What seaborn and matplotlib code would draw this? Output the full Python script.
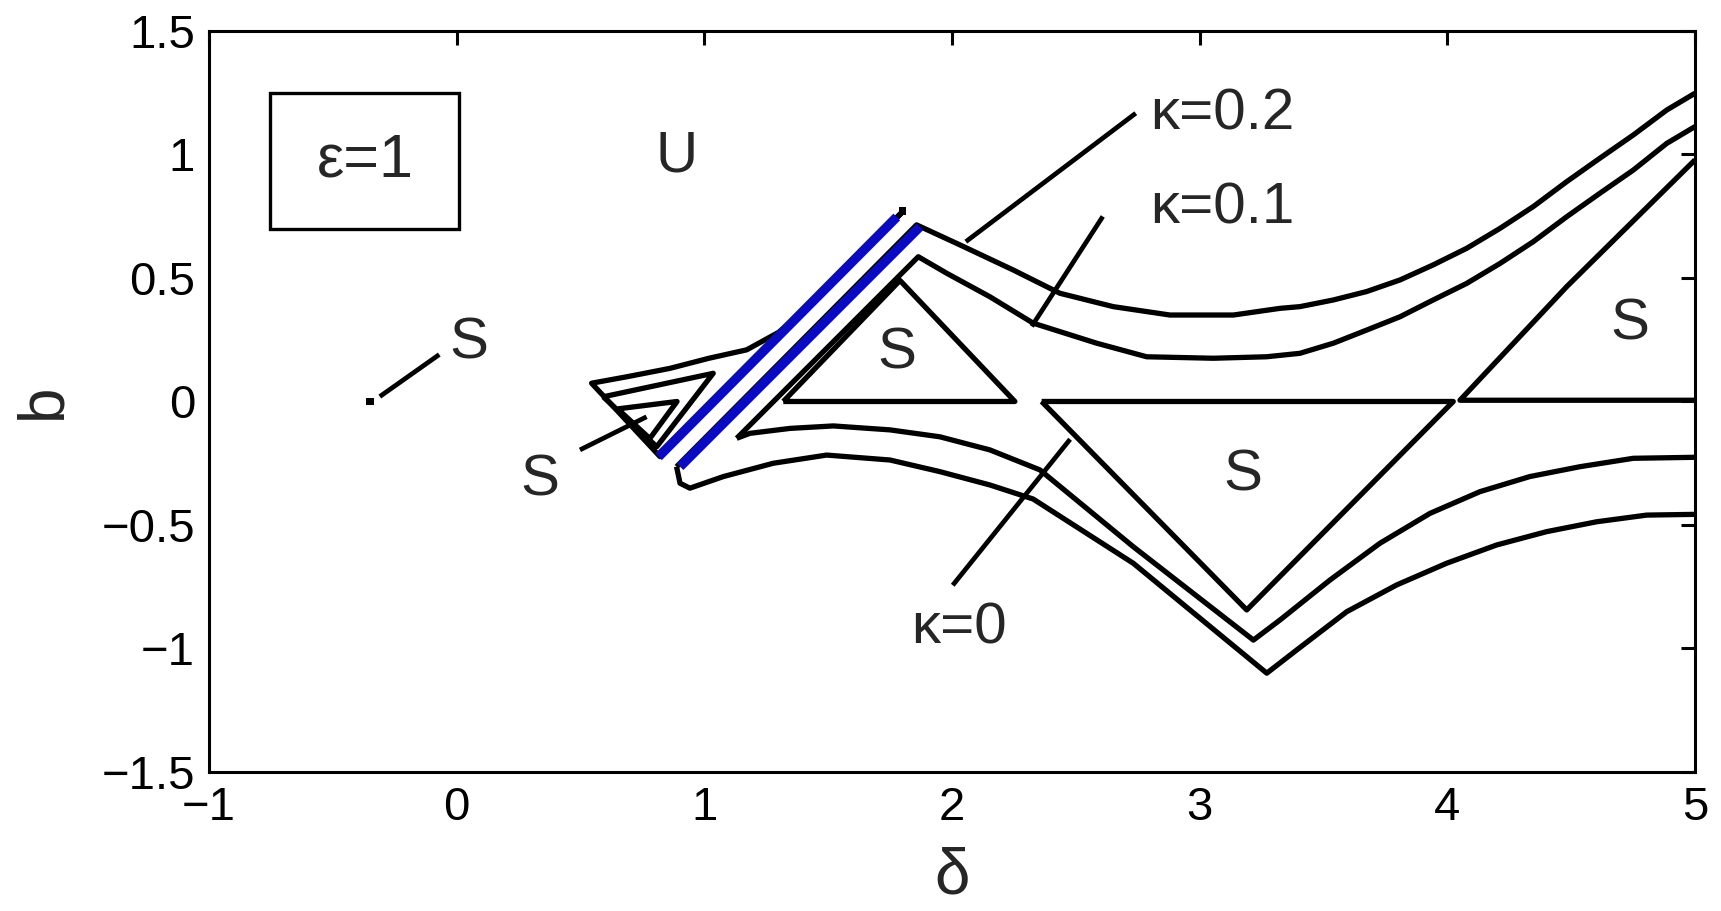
import numpy as np
import pandas as pd
import matplotlib
matplotlib.use("Agg")
import matplotlib.pyplot as plt
from matplotlib.patches import Rectangle
import seaborn as sns

# ---------------- data ----------------
# kappa = 0.2, upper branch (right end -> minimum -> cusp -> straight line down-left)
k02_up_x = [5.0, 4.886, 4.751, 4.616, 4.482, 4.347, 4.213, 4.078, 3.943, 3.809, 3.674, 3.540,
            3.405, 3.324, 3.136, 2.880, 2.651, 2.436, 2.248, 2.032, 1.857, 0.888]
k02_up_y = [1.248, 1.180, 1.079, 0.985, 0.890, 0.789, 0.701, 0.620, 0.553, 0.492, 0.445, 0.411,
            0.384, 0.377, 0.350, 0.350, 0.384, 0.438, 0.532, 0.634, 0.715, -0.264]
# kappa = 0.2, lower branch (cusp hook -> V -> right end)
k02_lo_x = [0.888, 0.902, 0.942, 1.077, 1.279, 1.494, 1.750, 1.951, 2.153, 2.328, 2.732, 3.271,
            3.392, 3.594, 3.795, 3.997, 4.199, 4.401, 4.603, 4.805, 5.0]
k02_lo_y = [-0.264, -0.331, -0.351, -0.304, -0.250, -0.217, -0.237, -0.284, -0.338, -0.395, -0.655, -1.100,
            -1.006, -0.851, -0.743, -0.655, -0.581, -0.527, -0.487, -0.460, -0.457]
# kappa = 0.2, left wedge
k02_wedge_x = [1.80, 0.821, 0.545, 0.687, 0.861, 1.019, 1.171, 1.30, 1.43, 1.80]
k02_wedge_y = [0.768, -0.223, 0.074, 0.100, 0.134, 0.175, 0.209, 0.280, 0.390, 0.768]

# kappa = 0.1, upper branch
k01_up_x = [5.0, 4.886, 4.751, 4.616, 4.482, 4.347, 4.213, 4.078, 3.943, 3.809, 3.674, 3.540,
            3.405, 3.270, 3.055, 2.786, 2.584, 2.328, 2.153, 1.979, 1.864, 1.131]
k01_up_y = [1.113, 1.045, 0.937, 0.843, 0.748, 0.647, 0.559, 0.478, 0.411, 0.343, 0.289, 0.236,
            0.195, 0.181, 0.175, 0.181, 0.236, 0.317, 0.424, 0.519, 0.586, -0.149]
# kappa = 0.1, lower branch
k01_lo_x = [1.131, 1.184, 1.346, 1.521, 1.750, 1.951, 2.153, 2.355, 2.732, 3.217, 3.324, 3.526,
            3.728, 3.930, 4.132, 4.333, 4.536, 4.751, 5.0]
k01_lo_y = [-0.149, -0.129, -0.109, -0.099, -0.115, -0.143, -0.196, -0.277, -0.588, -0.966, -0.885, -0.723,
            -0.574, -0.453, -0.365, -0.304, -0.264, -0.230, -0.226]
# kappa = 0.1, left wedge
k01_wedge_x = [0.592, 1.036, 0.808, 0.592]
k01_wedge_y = [0.019, 0.114, -0.183, 0.019]

# kappa = 0, regions
k0_tri1_x = [1.319, 1.790, 2.254, 1.319]
k0_tri1_y = [0.0, 0.490, 0.0, 0.0]
k0_tri2_x = [2.362, 3.190, 4.024, 2.362]
k0_tri2_y = [0.0, -0.844, 0.0, 0.0]
k0_right_x = [5.0, 4.482, 4.051, 5.0]
k0_right_y = [0.978, 0.465, 0.005, 0.005]
k0_small_x = [0.65, 0.89, 0.78, 0.65]
k0_small_y = [-0.03, 0.0, -0.15, -0.03]

# highlighted straight lines (blue)
blue1_x = [0.815, 1.777]
blue1_y = [-0.224, 0.747]
blue2_x = [0.902, 1.870]
blue2_y = [-0.264, 0.707]

# isolated stable point and end dot
pt_x = [-0.35, 1.80]
pt_y = [0.0, 0.77]

# pointer lines for labels
ptr_k02 = ([2.742, 2.056], [1.167, 0.647])
ptr_k01 = ([2.609, 2.322], [0.749, 0.304])
ptr_k0 = ([2.003, 2.477], [-0.744, -0.153])
ptr_s1 = ([-0.31, -0.07], [0.02, 0.19])
ptr_s2 = ([0.498, 0.767], [-0.196, -0.062])

x_ticks = [-1, 0, 1, 2, 3, 4, 5]
y_ticks = [-1.5, -1, -0.5, 0, 0.5, 1, 1.5]
x_ticklabels = ["\u22121", "0", "1", "2", "3", "4", "5"]
y_ticklabels = ["\u22121.5", "\u22121", "\u22120.5", "0", "0.5", "1", "1.5"]

# ---------------- plotting ----------------
sns.set_theme(style="white")
plt.rcParams["font.family"] = ["Liberation Sans", "DejaVu Sans"]

fig = plt.figure(figsize=(17.21, 9.11), dpi=100)
ax = fig.add_axes([0.1214, 0.1526, 0.8635, 0.8134])

BLACK_LW = 3.8

def curve(xs, ys, color="black", lw=BLACK_LW):
    df = pd.DataFrame({"x": xs, "y": ys})
    sns.lineplot(data=df, x="x", y="y", sort=False, estimator=None,
                 color=color, linewidth=lw, ax=ax, legend=False,
                 solid_joinstyle="round", solid_capstyle="butt")

for xs, ys in [(k02_up_x, k02_up_y), (k02_lo_x, k02_lo_y), (k02_wedge_x, k02_wedge_y),
               (k01_up_x, k01_up_y), (k01_lo_x, k01_lo_y), (k01_wedge_x, k01_wedge_y),
               (k0_tri1_x, k0_tri1_y), (k0_tri2_x, k0_tri2_y), (k0_right_x, k0_right_y),
               (k0_small_x, k0_small_y)]:
    curve(xs, ys)

for p in [ptr_k02, ptr_k01, ptr_k0, ptr_s1, ptr_s2]:
    curve(p[0], p[1], lw=3.4)

curve(blue1_x, blue1_y, color="#0a0ac0", lw=6.8)
curve(blue2_x, blue2_y, color="#0a0ac0", lw=6.8)

sns.scatterplot(x=pt_x, y=pt_y, color="black", s=30, marker="s", ax=ax, legend=False, edgecolor="none")

# text annotations
tfs = 42
ax.text(2.80, 1.16, "\u03ba=0.2", fontsize=tfs, ha="left", va="center")
ax.text(2.80, 0.78, "\u03ba=0.1", fontsize=tfs, ha="left", va="center")
ax.text(2.03, -0.92, "\u03ba=0", fontsize=tfs, ha="center", va="center")
ax.text(0.89, 0.99, "U", fontsize=tfs, ha="center", va="center")
for sx, sy in [(0.05, 0.233), (0.337, -0.318), (1.777, 0.193), (3.176, -0.30), (4.735, 0.313)]:
    ax.text(sx, sy, "S", fontsize=tfs, ha="center", va="center")

ax.add_patch(Rectangle((-0.753, 0.697), 0.764, 0.551, facecolor="white",
                       edgecolor="black", linewidth=2.4, zorder=3))
ax.text(-0.37, 0.972, "\u03b5=1", fontsize=44, ha="center", va="center", zorder=4)

ax.set_xlim(-1, 5)
ax.set_ylim(-1.5, 1.5)
ax.set_xticks(x_ticks)
ax.set_xticklabels(x_ticklabels)
ax.set_yticks(y_ticks)
ax.set_yticklabels(y_ticklabels)
ax.set_xlabel("\u03b4", fontsize=46, labelpad=12)
ax.set_ylabel("b", fontsize=46, labelpad=20)

ax.tick_params(axis="both", which="both", direction="in", length=10, width=2.2,
               labelsize=34, top=True, right=True, color="black", labelcolor="black", pad=10)
for s in ax.spines.values():
    s.set_visible(True)
    s.set_color("black")
    s.set_linewidth(2.2)
ax.set_facecolor("white")
fig.patch.set_facecolor("white")

fig.savefig("out.png", dpi=100, facecolor="white")
